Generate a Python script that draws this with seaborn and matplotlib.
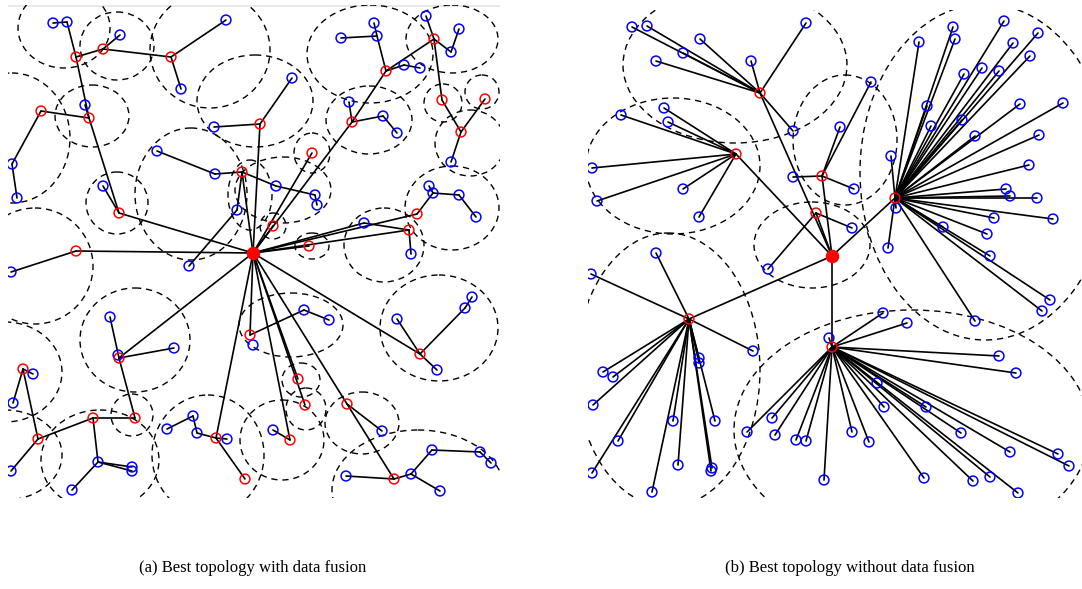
import matplotlib
matplotlib.use("Agg")
import matplotlib.pyplot as plt
from matplotlib.patches import Ellipse
import seaborn as sns
import pandas as pd

sns.set_theme(style="white")
plt.rcParams['font.family'] = ['Liberation Serif', 'DejaVu Serif']

# ---------------- panel (a): topology with data fusion ----------------
# node names: S = sink, r* = cluster heads (relays), b* = ordinary nodes
a_names = ["S",
           "b1", "b2", "r1", "r2", "b3", "r3", "b4", "b5",
           "r4", "b6", "r5", "b7", "b8",
           "b9", "r6", "b10",
           "b11", "b12", "r7",
           "b13", "r8",
           "b14", "b15",
           "r9", "b16",
           "b17", "b18", "b19", "r10", "b20", "b21",
           "r11", "b22", "b23", "b24",
           "r12", "r13", "r14", "b25",
           "r15", "b26", "b27", "b28",
           "r16",
           "b29", "b30", "b31",
           "r17", "r18",
           "b32", "r19", "r20", "b33", "b34", "b35", "b36", "b37",
           "b38", "r21", "b39", "b40",
           "r22", "b41",
           "r23", "b42", "b43",
           "r24", "b44", "r25", "r26",
           "b45", "b46", "b47", "b48",
           "b49", "b50", "b51", "r27", "b52", "r28",
           "b53", "b54",
           "b55", "r29", "b56", "b57", "b58",
           "r30", "r31",
           "b59", "r32",
           "r33", "b60", "r34",
           "b61", "b62", "b63", "b64", "b65", "b66"]
a_x = [253,
       53, 67, 76, 103, 120, 171, 226, 181,
       41, 85, 89, 12, 17,
       214, 260, 292,
       157, 215, 242,
       103, 119,
       237, 189,
       76, 11,
       341, 377, 374, 386, 404, 420,
       434, 426, 459, 451,
       442, 485, 461, 451,
       352, 349, 383, 397,
       312,
       276, 315, 317,
       273, 309,
       364, 417, 409, 411, 429, 433, 459, 476,
       110, 119, 118, 174,
       250, 253,
       23, 33, 13,
       38, 11, 93, 135,
       98, 72, 132, 132,
       167, 193, 197, 216, 227, 245,
       304, 329,
       397, 420, 437, 465, 472,
       298, 305,
       273, 290,
       347, 382, 394,
       346, 411, 432, 480, 491, 440]
a_y = [253,
       23, 22, 57, 49, 35, 57, 20, 89,
       111, 105, 118, 164, 198,
       127, 124, 78,
       151, 174, 172,
       186, 213,
       210, 266,
       251, 272,
       38, 36, 23, 71, 65, 68,
       39, 16, 29, 52,
       100, 99, 132, 162,
       122, 102, 116, 133,
       153,
       186, 195, 205,
       226, 246,
       223, 214, 230, 254, 186, 193, 195, 217,
       317, 358, 355, 348,
       335, 345,
       369, 374, 403,
       439, 471, 418, 418,
       462, 490, 467, 471,
       429, 416, 433, 438, 439, 479,
       310, 320,
       319, 354, 370, 308, 297,
       379, 405,
       430, 440,
       404, 431, 479,
       476, 474, 450, 452, 463, 491]
a_edges = [("b1", "b2"), ("b2", "r1"), ("b3", "r2"), ("r1", "r2"), ("r2", "r3"),
           ("r3", "b4"), ("r3", "b5"), ("r1", "r5"), ("b6", "r5"), ("r4", "r5"),
           ("r5", "r8"), ("r4", "b7"), ("b7", "b8"), ("b9", "r6"), ("r6", "b10"),
           ("r6", "S"), ("b11", "b12"), ("b12", "r7"), ("r7", "S"), ("b13", "r8"),
           ("r8", "S"), ("b15", "b14"), ("b14", "r7"), ("r9", "S"), ("b16", "r9"),
           ("b17", "b18"), ("b19", "b18"), ("b18", "r10"), ("r10", "b20"), ("b20", "b21"),
           ("b22", "r11"), ("r11", "b24"), ("b24", "b23"), ("r10", "r11"), ("r11", "r12"),
           ("r12", "r14"), ("r13", "r14"), ("r14", "b25"), ("b26", "r15"), ("r15", "b27"),
           ("b27", "b28"), ("r10", "r15"), ("r15", "S"), ("r16", "S"), ("r7", "b29"),
           ("b29", "b30"), ("b30", "b31"), ("r17", "S"), ("r18", "S"), ("S", "b32"),
           ("b32", "r20"), ("S", "r19"), ("S", "r20"), ("r19", "b35"), ("b35", "b34"),
           ("b35", "b36"), ("b36", "b37"), ("r20", "b33"),
           ("b38", "r21"), ("r21", "b40"), ("r21", "S"), ("r21", "r26"), ("r22", "S"),
           ("r23", "b43"), ("r23", "b42"), ("r23", "r24"), ("r24", "b44"), ("r24", "r25"),
           ("r25", "r26"), ("r25", "b45"), ("b45", "b46"), ("b45", "b47"), ("b45", "b48"),
           ("b49", "b50"), ("b50", "b51"), ("b51", "r27"), ("r27", "b52"), ("r27", "r28"),
           ("r27", "S"), ("r22", "b53"), ("b53", "b54"), ("S", "r29"), ("b55", "r29"),
           ("r29", "b56"), ("r29", "b57"), ("b57", "b58"), ("S", "r30"), ("S", "r31"),
           ("b59", "r32"), ("S", "r32"), ("S", "r33"), ("r33", "b60"), ("r33", "r34"),
           ("b61", "r34"), ("r34", "b62"), ("b62", "b63"), ("b63", "b64"), ("b64", "b65"),
           ("b62", "b66")]
# transmission ranges (dashed): centre x, centre y, half-width, half-height
a_range_x = [64, 117, 210, 255, 92, 12, 117, 191, 35, 283, 250, 273, 312, 312,
             370, 452, 369, 443, 482, 470, 452, 384,
             135, 5, 132, 5, 100, 208, 291, 282,
             439, 301, 306, 362, 418]
a_range_y = [28, 46, 50, 101, 116, 138, 203, 194, 266, 190, 195, 226, 153, 246,
             54, 39, 120, 103, 92, 143, 208, 245,
             340, 372, 415, 455, 460, 455, 325, 440,
             328, 380, 409, 423, 490]
a_range_w = [46, 37, 60, 58, 37, 58, 31, 56, 58, 48, 22, 13, 18, 17,
             63, 46, 43, 19, 17, 35, 47, 40,
             55, 57, 21, 57, 59, 56, 52, 42,
             59, 19, 20, 37, 86]
a_range_h = [40, 34, 58, 46, 31, 65, 31, 66, 58, 33, 35, 13, 20, 13,
             49, 34, 34, 19, 17, 33, 42, 37,
             52, 50, 21, 45, 50, 60, 32, 40,
             53, 17, 21, 31, 60]

# ---------------- panel (b): topology without data fusion ----------------
b_sink_x = [832]
b_sink_y = [256]
b_heads = ["A", "B", "C", "D", "E", "F", "G"]
b_head_x = [760, 736, 822, 816, 895, 832, 689]
b_head_y = [93, 154, 176, 213, 198, 347, 319]
b_member_x = [632, 647, 700, 683, 656, 751, 806, 793,
              621, 664, 668, 592, 597, 683, 699,
              793, 840, 871, 854,
              768, 852,
              953, 955, 919, 1004, 1038, 1013, 1030, 964, 982, 999, 927, 931, 962, 975,
              1020, 1063, 1039, 1029, 1006, 1010, 1037, 1053, 994, 943, 987, 990, 891,
              888, 896, 975, 1042, 1050,
              829, 883, 907, 999, 1016, 877, 884, 926, 961, 1010, 1058, 1069, 852, 869,
              924, 973, 990, 1018, 772, 775, 796, 806, 747, 824,
              656, 591, 753, 603, 613, 593, 699, 699, 618, 673, 715, 592, 678, 712, 711, 652]
b_member_y = [27, 26, 39, 53, 61, 61, 23, 131,
              115, 108, 122, 168, 201, 189, 217,
              177, 127, 82, 189,
              269, 228,
              27, 39, 42, 21, 33, 43, 56, 74, 68, 71, 106, 126, 120, 136,
              104, 103, 135, 165, 189, 196, 198, 219, 218, 227, 234, 256, 156,
              248, 208, 321, 311, 300,
              338, 313, 323, 356, 373, 383, 407, 407, 433, 452, 454, 466, 432, 442,
              478, 481, 477, 493, 418, 435, 440, 441, 432, 480,
              253, 274, 351, 372, 377, 405, 358, 363, 441, 421, 421, 473, 465, 468, 471, 492]
b_member_head = (["A"] * 8 + ["B"] * 7 + ["C"] * 4 + ["D"] * 2 + ["E"] * 32
                 + ["F"] * 24 + ["G"] * 16)
b_range_x = [735, 673, 845, 812, 985, 912, 668]
b_range_y = [65, 166, 140, 245, 172, 430, 370]
b_range_w = [112, 87, 52, 58, 125, 178, 92]
b_range_h = [78, 68, 65, 43, 168, 120, 137]

RED = "#ff0000"
BLUE = "#0000ff"
W, H = 1082, 589

fig = plt.figure(figsize=(W / 100, H / 100), dpi=100)
fig.patch.set_facecolor("white")


def make_axes(x0, x1, y0, y1):
    ax = fig.add_axes([x0 / W, 1 - y1 / H, (x1 - x0) / W, (y1 - y0) / H])
    ax.set_xlim(x0, x1)
    ax.set_ylim(y1, y0)
    ax.set_axis_off()
    return ax


def draw_ranges(ax, xs, ys, ws, hs):
    for cx, cy, w, h in zip(xs, ys, ws, hs):
        e = Ellipse((cx, cy), 2 * w, 2 * h, fill=False, ec="black",
                    lw=1.0, ls=(0, (4.5, 3.5)), zorder=1)
        ax.add_patch(e)


def hollow(ax, df, color):
    sns.scatterplot(data=df, x="x", y="y", ax=ax, color=color, s=50,
                    linewidth=1.1, legend=False, zorder=4)
    coll = ax.collections[-1]
    coll.set_facecolor("none")
    coll.set_edgecolor(color)


# ---- panel (a)
axa = make_axes(8, 500, 5, 498)
axa.plot([8, 500], [6, 6], color="#e4e4e4", lw=1.2, zorder=0)
draw_ranges(axa, a_range_x, a_range_y, a_range_w, a_range_h)
pos_a = {n: (x, y) for n, x, y in zip(a_names, a_x, a_y)}
for u, v in a_edges:
    axa.plot([pos_a[u][0], pos_a[v][0]], [pos_a[u][1], pos_a[v][1]],
             color="black", lw=1.2, zorder=2, solid_capstyle="round")
dfa = pd.DataFrame({"name": a_names, "x": a_x, "y": a_y})
dfa["kind"] = dfa["name"].str[0]
hollow(axa, dfa[dfa["kind"] == "b"], BLUE)
hollow(axa, dfa[dfa["kind"] == "r"], RED)
sns.scatterplot(data=dfa[dfa["kind"] == "S"], x="x", y="y", ax=axa, color=RED,
                s=95, linewidth=0, legend=False, zorder=5)
axa.set_xlim(8, 500)
axa.set_ylim(498, 5)
axa.set_axis_off()

# ---- panel (b)
axb = make_axes(588, 1082, 10, 498)
draw_ranges(axb, b_range_x, b_range_y, b_range_w, b_range_h)
pos_b = {h: (x, y) for h, x, y in zip(b_heads, b_head_x, b_head_y)}
for h in b_heads:
    axb.plot([pos_b[h][0], b_sink_x[0]], [pos_b[h][1], b_sink_y[0]],
             color="black", lw=1.2, zorder=2)
for mx, my, h in zip(b_member_x, b_member_y, b_member_head):
    axb.plot([mx, pos_b[h][0]], [my, pos_b[h][1]], color="black", lw=1.2, zorder=2)
dfb_m = pd.DataFrame({"x": b_member_x, "y": b_member_y})
dfb_h = pd.DataFrame({"x": b_head_x, "y": b_head_y})
hollow(axb, dfb_m, BLUE)
hollow(axb, dfb_h, RED)
sns.scatterplot(x=b_sink_x, y=b_sink_y, ax=axb, color=RED, s=95, linewidth=0,
                legend=False, zorder=5)
axb.set_xlim(588, 1082)
axb.set_ylim(498, 10)
axb.set_axis_off()

# ---- captions
fig.text(253 / W, 1 - 568 / H, "(a) Best topology with data fusion",
         ha="center", va="center", fontsize=12, color="black")
fig.text(850 / W, 1 - 568 / H, "(b) Best topology without data fusion",
         ha="center", va="center", fontsize=12, color="black")

fig.savefig("out.png", dpi=100, facecolor="white")
